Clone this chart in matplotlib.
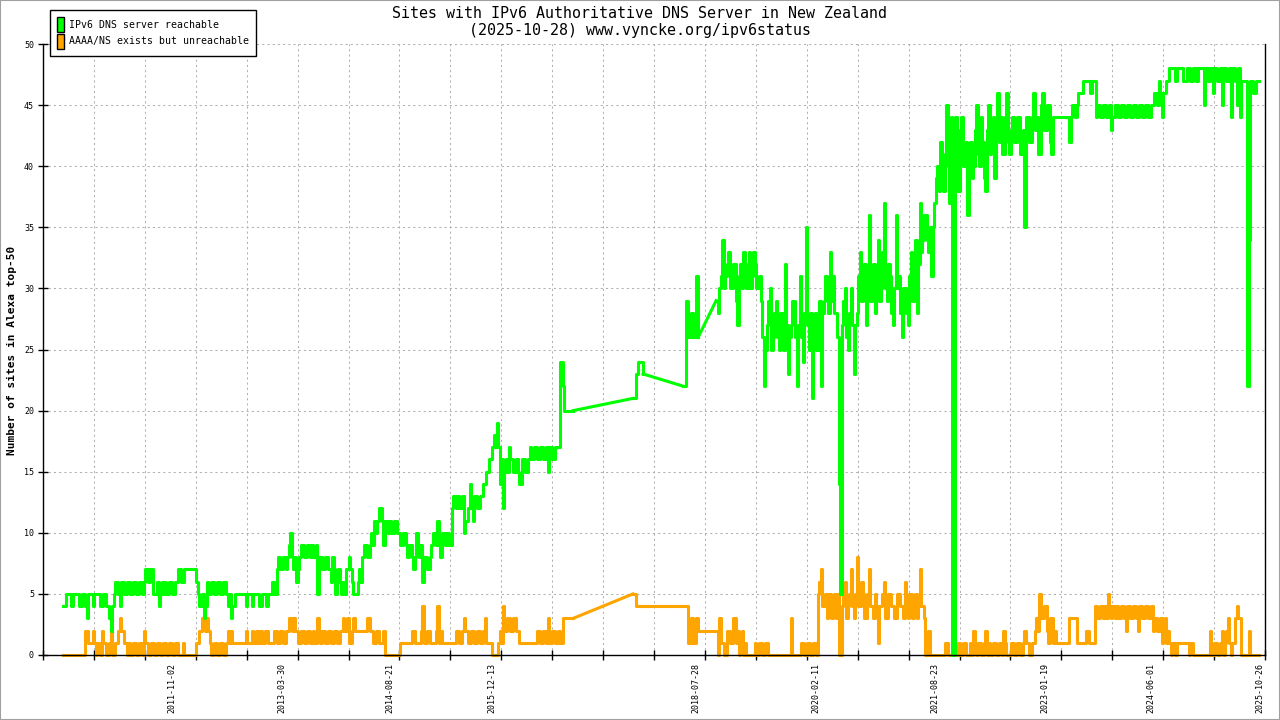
import numpy as np
import pandas as pd
import matplotlib
matplotlib.use("Agg")
import matplotlib.pyplot as plt
import matplotlib.dates as mdates
from matplotlib.patches import Patch, Rectangle

# -----------------------------
# TEXT
# -----------------------------
TITLE = "Sites with IPv6 Authoritative DNS Server in New Zealand"
SUBTITLE = "(2025-10-28) www.vyncke.org/ipv6status"
YLABEL = "Number of sites in Alexa top-50"
LABEL_OK = "IPv6 DNS server reachable"
LABEL_BAD = "AAAA/NS exists but unreachable"

# -----------------------------
# DATA
# survey periods, nothing was measured between them
# -----------------------------
PERIODS = [
    ("2010-06-08", "2016-12-28"),
    ("2017-10-05", "2017-11-21"),
    ("2018-05-28", "2018-08-07"),
    ("2018-10-30", "2025-10-22"),
]

reach_1 = [
    4, 4, 5, 5, 5, 4, 4, 5, 5, 5, 5, 4, 4, 5, 5, 4, 3, 5, 5, 5,
    4, 5, 5, 5, 5, 4, 4, 5, 5, 4, 4, 3, 2, 4, 5, 6, 6, 5, 4, 6,
    6, 5, 5, 6, 6, 5, 5, 6, 6, 5, 5, 6, 6, 5, 6, 7, 7, 6, 7, 7,
    5, 5, 5, 6, 4, 5, 6, 5, 6, 5, 5, 6, 6, 5, 5, 6, 6, 7, 7, 6,
    6, 7, 7, 7, 7, 7, 7, 7, 7, 6, 5, 4, 4, 5, 3, 4, 6, 5, 5, 6,
    6, 5, 5, 6, 6, 5, 5, 6, 6, 5, 4, 5, 3, 4, 4, 5, 5, 5, 5, 5,
    5, 5, 4, 5, 5, 5, 4, 5, 5, 5, 5, 4, 4, 5, 5, 5, 4, 5, 5, 5,
    6, 5, 5, 7, 8, 7, 7, 8, 8, 7, 8, 9, 10, 8, 7, 8, 6, 7, 8, 9,
    9, 8, 8, 9, 9, 8, 9, 8, 8, 9, 5, 8, 8, 7, 7, 8, 8, 7, 7, 6,
    8, 7, 5, 6, 7, 6, 5, 6, 5, 7, 7, 8, 7, 6, 5, 5, 5, 6, 7, 6,
    8, 9, 9, 8, 8, 9, 10, 9, 11, 10, 11, 12, 12, 11, 9, 11, 11, 10, 11, 10,
    10, 11, 11, 10, 10, 9, 9, 10, 10, 9, 8, 9, 9, 8, 7, 8, 10, 9, 8, 9,
    6, 8, 8, 7, 7, 8, 9, 10, 10, 9, 11, 9, 8, 10, 10, 9, 9, 10, 9, 9,
    12, 13, 13, 12, 13, 12, 12, 13, 10, 11, 11, 12, 14, 12, 11, 13, 13, 12, 12, 13,
    13, 14, 14, 15, 15, 16, 16, 17, 18, 17, 19, 17, 14, 16, 12, 15, 16, 15, 17, 16,
    16, 15, 15, 16, 15, 14, 14, 16, 16, 15, 15, 16, 17, 16, 16, 17, 17, 16, 16, 17,
    17, 16, 16, 17, 15, 17, 17, 16, 16, 17, 17, 17, 24, 24, 22, 20, 20, 20, 20, 20,
    20, 20,
]
unreach_1 = [
    0, 0, 0, 0, 0, 0, 0, 0, 0, 0, 0, 0, 0, 0, 0, 2, 2, 1, 1, 1,
    2, 1, 0, 1, 1, 0, 2, 1, 1, 0, 0, 1, 2, 0, 0, 1, 1, 2, 3, 2,
    2, 1, 1, 0, 1, 0, 0, 1, 1, 0, 0, 1, 1, 0, 2, 1, 1, 0, 0, 1,
    1, 0, 0, 1, 1, 0, 0, 1, 1, 0, 0, 1, 1, 0, 0, 1, 1, 0, 0, 0,
    1, 0, 0, 0, 0, 0, 0, 0, 0, 1, 1, 2, 2, 3, 3, 2, 3, 2, 1, 0,
    0, 1, 1, 0, 0, 1, 1, 0, 0, 1, 2, 1, 2, 1, 1, 1, 1, 1, 1, 1,
    1, 1, 2, 1, 1, 1, 2, 1, 1, 2, 1, 1, 2, 1, 1, 2, 2, 1, 1, 1,
    1, 2, 2, 1, 1, 2, 2, 1, 1, 2, 2, 3, 3, 2, 3, 2, 2, 1, 1, 2,
    2, 1, 1, 2, 2, 1, 1, 2, 1, 1, 3, 2, 1, 2, 2, 1, 1, 2, 2, 1,
    1, 2, 2, 1, 1, 2, 2, 3, 2, 2, 3, 1, 1, 2, 3, 2, 2, 2, 2, 2,
    2, 2, 2, 3, 3, 2, 2, 1, 1, 2, 2, 1, 1, 1, 2, 0, 0, 0, 0, 0,
    0, 0, 0, 0, 0, 1, 1, 1, 1, 1, 1, 1, 1, 2, 2, 1, 1, 1, 1, 2,
    4, 1, 1, 2, 2, 1, 1, 1, 1, 2, 4, 1, 2, 1, 1, 1, 1, 1, 1, 1,
    1, 1, 1, 2, 2, 1, 1, 2, 3, 2, 2, 1, 1, 2, 2, 1, 1, 2, 2, 1,
    1, 2, 3, 1, 1, 1, 1, 0, 0, 0, 0, 1, 2, 1, 4, 2, 2, 3, 3, 2,
    2, 3, 3, 2, 2, 1, 1, 1, 1, 1, 1, 1, 1, 1, 1, 1, 1, 2, 2, 1,
    1, 2, 2, 1, 3, 1, 1, 2, 2, 1, 1, 2, 1, 1, 3, 3, 3, 3, 3, 3,
    3, 3,
]

reach_2 = [21, 23, 24, 24, 23]
unreach_2 = [5, 4, 4, 4, 4]

reach_3 = [22, 29, 26, 28, 26, 31, 26]
unreach_3 = [4, 4, 1, 3, 1, 3, 2]

reach_4 = [
    29, 28, 30, 31, 34, 30, 31, 32, 33, 30, 30, 32, 32, 29, 27, 31, 32, 30, 33, 31,
    30, 32, 33, 30, 31, 33, 32, 30, 30, 31, 29, 26, 22, 25, 27, 29, 30, 25, 26, 28,
    29, 26, 25, 28, 28, 25, 32, 27, 23, 26, 27, 29, 29, 26, 22, 27, 31, 26, 24, 28,
    35, 27, 25, 28, 21, 26, 28, 25, 25, 29, 22, 28, 29, 31, 30, 28, 33, 29, 31, 28,
    28, 26, 14, 5, 27, 29, 30, 26, 25, 28, 30, 27, 23, 27, 28, 31, 33, 29, 30, 32,
    27, 31, 36, 29, 30, 32, 28, 31, 34, 29, 30, 33, 37, 30, 29, 32, 31, 28, 27, 30,
    36, 30, 31, 28, 26, 30, 30, 28, 27, 31, 33, 29, 31, 34, 28, 32, 37, 33, 34, 36,
    36, 34, 33, 35, 31, 35, 37, 39, 40, 38, 42, 39, 38, 41, 45, 40, 37, 44, 0, 0,
    44, 40, 38, 43, 44, 40, 40, 42, 36, 40, 42, 39, 40, 43, 45, 41, 40, 44, 42, 39,
    38, 43, 45, 41, 42, 44, 39, 43, 46, 42, 44, 41, 41, 44, 46, 42, 41, 43, 44, 42,
    42, 44, 44, 41, 41, 43, 35, 44, 44, 42, 42, 44, 46, 43, 44, 41, 41, 45, 46, 43,
    43, 45, 45, 42, 41, 44, 44, 44, 44, 44, 44, 44, 44, 44, 44, 44, 42, 44, 45, 45,
    44, 45, 46, 46, 46, 47, 47, 47, 47, 47, 46, 47, 47, 47, 44, 45, 45, 44, 44, 45,
    45, 44, 44, 45, 43, 44, 44, 45, 45, 44, 44, 45, 45, 44, 44, 45, 45, 44, 44, 45,
    45, 44, 44, 45, 45, 44, 44, 45, 45, 44, 44, 45, 45, 46, 46, 45, 47, 46, 44, 46,
    46, 47, 47, 48, 48, 48, 48, 47, 48, 48, 48, 48, 47, 47, 47, 48, 48, 47, 47, 48,
    48, 47, 48, 48, 48, 48, 45, 48, 48, 47, 48, 48, 46, 48, 48, 47, 47, 48, 45, 48,
    48, 47, 47, 48, 44, 48, 48, 47, 45, 48, 44, 47, 47, 47, 47, 22, 34, 47, 47, 46,
    46, 47, 47, 47,
]
unreach_4 = [
    2, 0, 3, 1, 1, 0, 0, 2, 2, 1, 1, 3, 3, 1, 2, 0, 1, 2, 0, 1,
    0, 0, 0, 0, 0, 0, 1, 0, 0, 1, 1, 0, 0, 1, 1, 0, 0, 0, 0, 0,
    0, 0, 0, 0, 0, 0, 0, 0, 0, 0, 3, 0, 0, 0, 0, 0, 0, 1, 1, 0,
    0, 1, 1, 0, 0, 1, 1, 0, 5, 6, 7, 4, 4, 5, 3, 5, 5, 3, 4, 5,
    3, 5, 0, 0, 4, 5, 6, 3, 4, 5, 7, 4, 3, 5, 8, 4, 4, 6, 5, 3,
    3, 5, 7, 4, 4, 3, 5, 4, 1, 4, 4, 5, 6, 3, 3, 5, 5, 4, 4, 3,
    3, 5, 5, 4, 4, 3, 6, 4, 3, 5, 5, 3, 4, 5, 3, 4, 7, 4, 4, 3,
    0, 0, 2, 0, 0, 0, 0, 0, 0, 0, 0, 0, 0, 1, 1, 0, 0, 0, 0, 0,
    0, 0, 1, 0, 0, 1, 1, 0, 0, 0, 1, 0, 2, 1, 0, 1, 1, 0, 0, 1,
    2, 0, 1, 0, 0, 1, 1, 0, 0, 1, 1, 0, 2, 1, 0, 0, 0, 1, 1, 0,
    0, 1, 1, 0, 0, 1, 2, 1, 1, 0, 0, 1, 1, 2, 3, 2, 5, 3, 3, 4,
    4, 2, 1, 3, 3, 1, 2, 1, 1, 1, 1, 1, 1, 1, 1, 1, 3, 3, 3, 3,
    3, 1, 1, 1, 1, 1, 1, 2, 2, 1, 1, 1, 1, 4, 4, 3, 3, 4, 4, 3,
    4, 3, 5, 4, 3, 4, 4, 3, 4, 3, 3, 4, 4, 3, 2, 4, 4, 3, 3, 4,
    4, 3, 2, 4, 4, 3, 3, 4, 4, 3, 3, 4, 2, 3, 3, 2, 2, 3, 1, 2,
    3, 1, 2, 1, 0, 1, 1, 0, 1, 1, 1, 1, 1, 1, 1, 1, 0, 1, 1, 0,
    0, 0, 0, 0, 0, 0, 0, 0, 0, 0, 2, 0, 0, 1, 1, 0, 0, 1, 2, 0,
    1, 2, 3, 1, 0, 1, 1, 3, 4, 3, 3, 0, 0, 0, 0, 0, 2, 0, 0, 0,
    0, 0, 0, 0,
]

REACH = [reach_1, reach_2, reach_3, reach_4]
UNREACH = [unreach_1, unreach_2, unreach_3, unreach_4]

XTICK_DATES = ["2011-11-02", "2013-03-30", "2014-08-21", "2015-12-13",
               "2018-07-28", "2020-02-11", "2021-08-23", "2023-01-19",
               "2024-06-01", "2025-10-26"]
X_START, X_END = "2010-03-06", "2025-11-19"
YTICKS = list(range(0, 51, 5))

GREEN = "#00ff00"
ORANGE = "#ffa500"
FONT = "DejaVu Sans Mono"

plt.rcParams["font.family"] = [FONT]

# -----------------------------
# FIGURE
# -----------------------------
fig = plt.figure(figsize=(12.8, 7.2), dpi=100)
ax = fig.add_axes([43 / 1280, 65 / 720, 1222 / 1280, 611 / 720])


def draw_series(blocks, color):
    prev = None
    for (start, end), vals in zip(PERIODS, blocks):
        dates = mdates.date2num(pd.date_range(start, end, periods=len(vals)))
        if prev is not None:
            # gnuplot just joins the points across the missing months
            ax.plot([prev[0], dates[0]], [prev[1], vals[0]], color=color,
                    lw=2.2, clip_on=False, zorder=2)
        ax.plot(dates, vals, color=color, lw=2.2, drawstyle="steps-post",
                clip_on=False, zorder=2)
        prev = (dates[-1], vals[-1])


draw_series(UNREACH, ORANGE)
draw_series(REACH, GREEN)

x0 = mdates.date2num(pd.Timestamp(X_START))
x1 = mdates.date2num(pd.Timestamp(X_END))
ax.set_xlim(x0, x1)
ax.set_ylim(0, 50)

ax.set_xticks(mdates.date2num(pd.to_datetime(XTICK_DATES)))
ax.set_xticklabels(XTICK_DATES, rotation=90, fontsize=6, va="top")
ax.set_xticks(np.linspace(x0, x1, 25), minor=True)
ax.tick_params(axis="x", which="major", length=0, pad=6)
ax.tick_params(axis="x", which="minor", length=7, width=1, direction="inout")

ax.set_yticks(YTICKS)
ax.set_yticklabels([str(v) for v in YTICKS], fontsize=6)
ax.tick_params(axis="y", length=7, width=1, direction="inout", pad=3)

grid_style = dict(color="#b0b0b0", lw=0.75, linestyle=(0, (2, 3)))
ax.grid(which="minor", axis="x", **grid_style)
ax.grid(which="major", axis="y", **grid_style)
ax.set_axisbelow(True)

ax.spines["top"].set_visible(False)
for side in ["left", "bottom", "right"]:
    ax.spines[side].set_linewidth(1)

fig.text(640 / 1280, 1 - 13 / 720, TITLE, ha="center", va="center", fontsize=10.8)
fig.text(640 / 1280, 1 - 31 / 720, SUBTITLE, ha="center", va="center", fontsize=10.8)
fig.text(12 / 1280, 1 - 350 / 720, YLABEL, rotation=90, ha="center", va="center",
         fontsize=8, fontweight="bold")

handles = [Patch(facecolor=GREEN, edgecolor="black", lw=1),
           Patch(facecolor=ORANGE, edgecolor="black", lw=1)]
leg = fig.legend(handles, [LABEL_OK, LABEL_BAD], loc="upper left",
                 bbox_to_anchor=(50 / 1280, 1 - 10 / 720), fontsize=7.1,
                 handlelength=0.7, handleheight=1.95, handletextpad=0.5,
                 labelspacing=0.2, borderpad=0.7, borderaxespad=0,
                 fancybox=False, framealpha=1)
leg.get_frame().set_edgecolor("black")
leg.get_frame().set_linewidth(1)

fig.patches.append(Rectangle((0, 0), 1, 1, transform=fig.transFigure, fill=False,
                             edgecolor="#a0a0a0", lw=1.5))

fig.savefig("out.png", dpi=100)
